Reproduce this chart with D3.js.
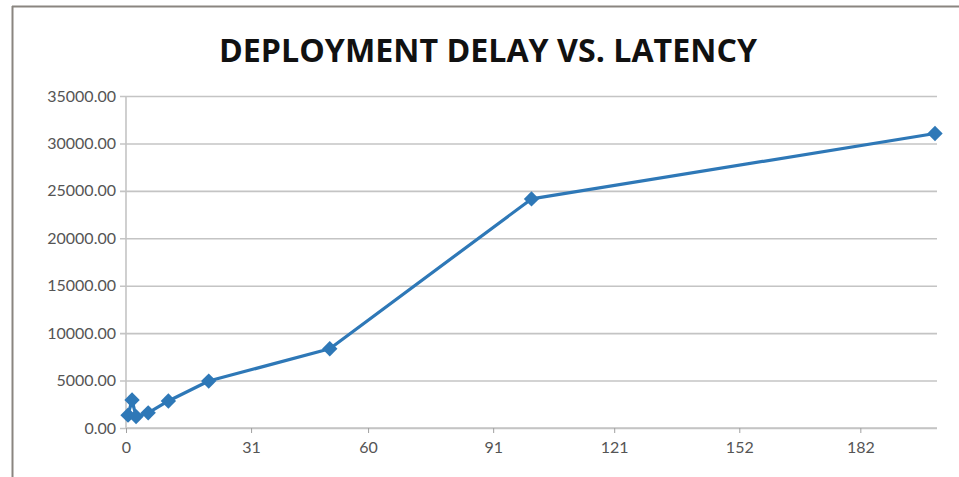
<!DOCTYPE html>
<html>
<head>
<meta charset="utf-8">
<script src="https://cdnjs.cloudflare.com/ajax/libs/d3/7.8.5/d3.min.js"></script>
<style>
  body { margin: 0; background: #fff; }
  svg { display: block; }
</style>
</head>
<body>
<svg id="chart" width="959" height="477"></svg>
<script>
// deployment delay (days) vs latency
var delays   = [0, 1, 2, 5, 10, 20, 50, 100, 200];
var latency  = [1350, 2950, 1200, 1600, 2850, 4950, 8350, 24150, 31050];
var xTicks   = [0, 31, 60, 91, 121, 152, 182];
var yTicks   = [0, 5000, 10000, 15000, 20000, 25000, 30000, 35000];
var title    = "DEPLOYMENT DELAY VS. LATENCY";

var svg = d3.select("#chart");

// plot box (note: "top" is taken by window.top)
var pLeft = 126, pRight = 937, pTop = 96, pBottom = 428;

// excel date axis: ticks at day start, points mid-day
var x = d3.scaleLinear().domain([0, 201]).range([pLeft, pRight]);
var y = d3.scaleLinear().domain([0, 35000]).range([pBottom, pTop]);

// frame lines of the screenshot
svg.append("line").attr("x1", 12.5).attr("x2", 12.5).attr("y1", 6).attr("y2", 477)
    .attr("stroke", "#8a8580").attr("stroke-width", 2);
svg.append("line").attr("x1", 12).attr("x2", 959).attr("y1", 6.5).attr("y2", 6.5)
    .attr("stroke", "#8a8580").attr("stroke-width", 2);

svg.append("text")
    .attr("x", 488).attr("y", 62)
    .attr("text-anchor", "middle")
    .attr("font-family", "'Open Sans', sans-serif")
    .attr("font-weight", "bold")
    .attr("font-size", 33)
    .attr("textLength", 538)
    .attr("lengthAdjust", "spacingAndGlyphs")
    .attr("fill", "#111")
    .text(title);

// horizontal gridlines + y labels
var yAxis = d3.axisLeft(y)
    .tickValues(yTicks)
    .tickSize(6)
    .tickPadding(10)
    .tickFormat(d3.format(".2f"));

var gy = svg.append("g")
    .attr("transform", "translate(" + (pLeft - 6) + ",0)")
    .call(yAxis);
gy.select(".domain").remove();
gy.selectAll(".tick line")
    .attr("stroke", "#c4c4c4").attr("stroke-width", 1.6)
    .attr("x1", 0).attr("x2", pRight - pLeft + 6);
gy.selectAll(".tick text")
    .attr("fill", "#555")
    .attr("font-family", "Lato, sans-serif")
    .attr("font-size", 16)
    .attr("x", -4);

// vertical axis line
svg.append("line")
    .attr("x1", pLeft).attr("x2", pLeft).attr("y1", pTop).attr("y2", pBottom)
    .attr("stroke", "#c4c4c4").attr("stroke-width", 1.6);

// x axis
var xAxis = d3.axisBottom(x)
    .tickValues(xTicks)
    .tickSize(5)
    .tickPadding(9)
    .tickFormat(d3.format("d"));

var gx = svg.append("g")
    .attr("transform", "translate(0," + pBottom + ")")
    .call(xAxis);
gx.select(".domain")
    .attr("stroke", "#c4c4c4").attr("stroke-width", 1.6)
    .attr("d", "M" + pLeft + ",0H" + pRight);
gx.selectAll(".tick line").attr("stroke", "#a0a0a0");
gx.selectAll(".tick text")
    .attr("fill", "#555")
    .attr("font-family", "Lato, sans-serif")
    .attr("font-size", 16);

var pts = delays.map(function (d, i) { return [d, latency[i]]; });

var line = d3.line()
    .x(function (d) { return x(d[0] + 0.5); })
    .y(function (d) { return y(d[1]); });

svg.append("path")
    .datum(pts)
    .attr("d", line)
    .attr("fill", "none")
    .attr("stroke", "#2e78b7")
    .attr("stroke-width", 3.2)
    .attr("stroke-linejoin", "round");

svg.selectAll("path.pt")
    .data(pts)
    .enter()
    .append("path")
    .attr("class", "pt")
    .attr("d", d3.symbol().type(d3.symbolDiamond2).size(150))
    .attr("transform", function (d) {
        return "translate(" + x(d[0] + 0.5) + "," + y(d[1]) + ")";
    })
    .attr("fill", "#2e78b7");
</script>
</body>
</html>
